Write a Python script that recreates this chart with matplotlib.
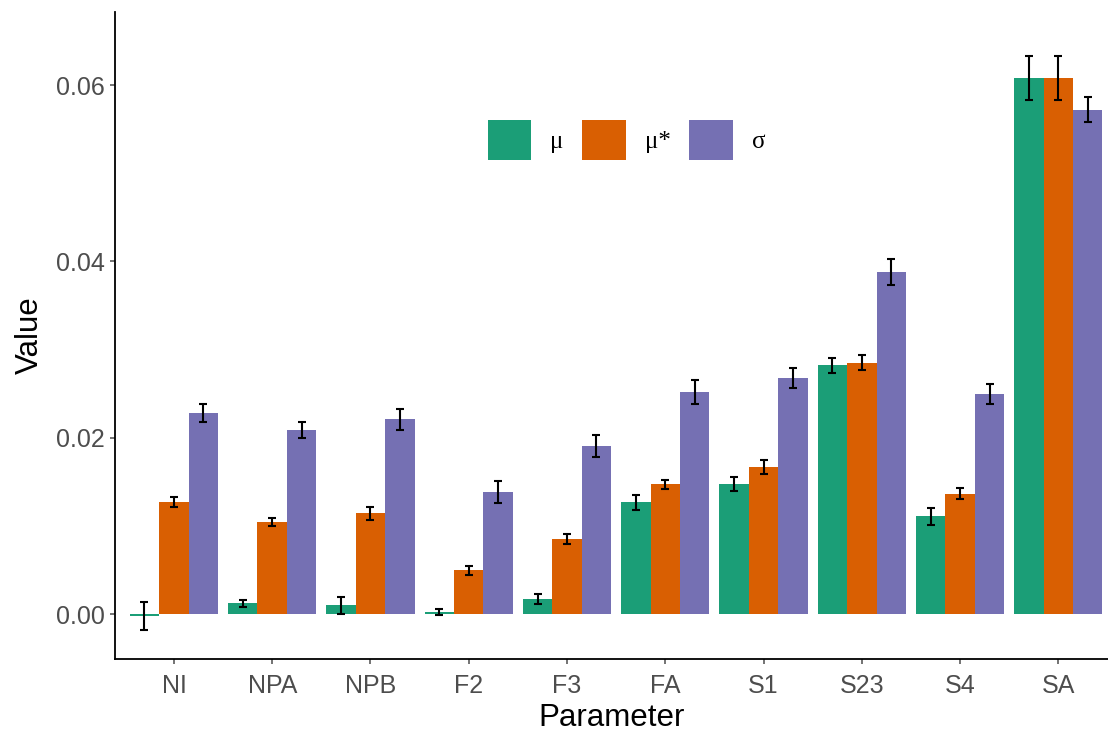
import numpy as np
import matplotlib
matplotlib.use("Agg")
import matplotlib.pyplot as plt

params = ["NI", "NPA", "NPB", "F2", "F3", "FA", "S1", "S23", "S4", "SA"]

mu = [-0.0002, 0.0012, 0.0010, 0.00023, 0.0017, 0.0127, 0.0148, 0.0282, 0.0111, 0.0608]
mu_err = [0.0016, 0.00038, 0.00096, 0.00034, 0.0006, 0.00085, 0.0008, 0.0009, 0.00098, 0.0025]

mu_star = [0.0127, 0.01047, 0.01142, 0.00495, 0.00854, 0.0147, 0.01668, 0.0285, 0.01366, 0.0608]
mu_star_err = [0.00053, 0.00043, 0.0007, 0.00053, 0.00057, 0.00055, 0.00074, 0.00087, 0.00063, 0.0025]

sigma = [0.02277, 0.02087, 0.02208, 0.01384, 0.01906, 0.02518, 0.0268, 0.0388, 0.02496, 0.0572]
sigma_err = [0.001, 0.00095, 0.00115, 0.00125, 0.0012, 0.00134, 0.00112, 0.00148, 0.0011, 0.0014]

series = [
    ("μ", mu, mu_err, "#1B9E77"),
    ("μ*", mu_star, mu_star_err, "#D95F02"),
    ("σ", sigma, sigma_err, "#7570B3"),
]

plt.rcParams["font.family"] = ["Liberation Sans", "DejaVu Sans"]

fig = plt.figure(figsize=(11.08, 7.34), dpi=100)
ax = fig.add_axes([0.1038, 0.1022, 0.8962, 0.8815])

x = np.arange(len(params))
width = 0.3
for i, (name, vals, errs, color) in enumerate(series):
    pos = x + (i - 1) * width
    ax.bar(pos, vals, width, color=color, label=name, edgecolor="none", zorder=2)
    ax.errorbar(pos, vals, yerr=errs, fmt="none", ecolor="black",
                elinewidth=1.5, capsize=3.2, capthick=1.5, zorder=3)

ax.set_xlim(-0.6, 9.506)
ax.set_ylim(-0.0051, 0.0683)
ax.set_yticks([0.0, 0.02, 0.04, 0.06])
ax.set_yticklabels(["0.00", "0.02", "0.04", "0.06"])
ax.set_xticks(x)
ax.set_xticklabels(params)

for side in ["top", "right"]:
    ax.spines[side].set_visible(False)
for side in ["left", "bottom"]:
    ax.spines[side].set_linewidth(1.3)
    ax.spines[side].set_color("black")

ax.tick_params(axis="both", labelsize=18, colors="#4D4D4D", length=3.6, width=1.1)
ax.tick_params(axis="y", pad=4)
ax.tick_params(axis="x", pad=7)

ax.set_xlabel("Parameter", fontsize=22.5, labelpad=4)
ax.set_ylabel("Value", fontsize=22.5, labelpad=8)

ax.legend(loc="center", bbox_to_anchor=(0.515, 0.802), ncol=3, frameon=False,
          prop={"family": "Liberation Serif", "size": 18},
          handlelength=1.75, handleheight=2.1, handletextpad=0.75,
          columnspacing=0.75)

fig.savefig("out.png", dpi=100)
